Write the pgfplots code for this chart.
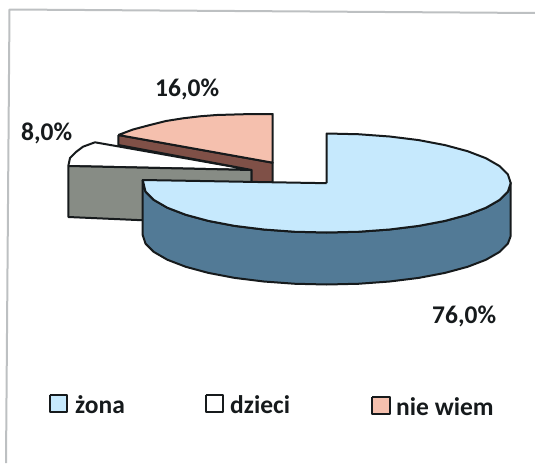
\documentclass[border=0pt]{standalone}
\usepackage{fontspec}
\setmainfont{Carlito}
\usepackage{pgfplots}
\pgfplotsset{compat=1.18}
\definecolor{lblue}{HTML}{C6E9FD}
\definecolor{dblue}{HTML}{527A96}
\definecolor{dgray}{HTML}{878C85}
\definecolor{brn}{HTML}{7F5047}
\definecolor{salm}{HTML}{F5C0AE}
\definecolor{ink}{HTML}{161A1C}
\definecolor{frame}{HTML}{BDC0C2}
\tikzset{lbl/.style={font=\bfseries\fontsize{25.5}{25.5}\selectfont, text=ink, inner sep=0pt, anchor=base west}}
\begin{document}
\begin{tikzpicture}
\begin{axis}[
  scale only axis, width=535pt, height=463pt,
  xmin=0, xmax=535, ymin=0, ymax=463, y dir=reverse,
  hide axis, clip=true,
  every axis plot/.append style={line join=round, line width=2pt, draw=ink, mark=none},
]
\path[use as bounding box] (axis cs:0,0) rectangle (axis cs:535,463);
% frame
\addplot[draw=frame, line width=2pt] coordinates {(6,463) (9.5,9.5) (535,13)};
% dzieci: top
\addplot[fill=white] coordinates {(68.3,166) (70,158) (76,152) (83,146.7) (95,142.3) (120,146.7) (251.7,170) (68.3,166)};
% dzieci: front
\addplot[fill=dgray] coordinates {(68.3,166) (251.7,170) (251.7,225) (68.3,217) (68.3,166)};
% nie wiem: side
\addplot[fill=brn] coordinates {(118.3,135) (272.7,162.7) (272.7,190) (251.7,190) (251.7,170) (118.3,145) (118.3,135)};
% nie wiem: top
\addplot[fill=salm] coordinates {(118.3,135) (133,129.5) (150,125) (166,121) (183,118.3) (200,116.3) (216.7,115) (245,114.2) (272.7,114) (272.7,162.7) (118.3,135)};
% zona: side
\addplot[fill=dblue] coordinates {(142.7,180) (145.5,191.6) (153.8,199.9) (167.4,207.75) (185.8,214.8) (208.4,220.9) (234.7,225.9) (263.8,229.5) (294.7,231.75) (326.7,232.5) (358.7,231.75) (389.6,229.5) (418.7,225.9) (445.0,220.9) (467.6,214.8) (486.0,207.75) (499.6,199.9) (507.9,191.6) (510.7,183)
 (510.7,236) (507.9,243.6) (499.6,251.9) (486.0,259.75) (467.6,266.8) (445.0,272.9) (418.7,277.9) (389.6,281.5) (358.7,283.75) (326.7,284.5) (294.7,283.75) (263.8,281.5) (234.7,277.9) (208.4,272.9) (185.8,266.8) (167.4,259.75) (153.8,251.9) (145.5,243.6) (142.7,235) (142.7,180)};
% zona: top
\addplot[fill=lblue] coordinates {(326.7,183.2) (326.7,133.5) (358.7,134.25) (389.6,136.5) (418.7,140.1) (445.0,145.1) (467.6,151.2) (486.0,158.25) (499.6,166.1) (507.9,174.4) (510.7,183) (507.9,191.6) (499.6,199.9) (486.0,207.75) (467.6,214.8) (445.0,220.9) (418.7,225.9) (389.6,229.5) (358.7,231.75) (326.7,232.5) (294.7,231.75) (263.8,229.5) (234.7,225.9) (208.4,220.9) (185.8,214.8) (167.4,207.75) (153.8,199.9) (145.5,191.6) (142.7,180) (326.7,183.2)};
% legend keys
\addplot[fill=lblue] coordinates {(49.5,394.5) (67,394.5) (67,412) (49.5,412) (49.5,394.5)};
\addplot[fill=white] coordinates {(205.5,394.5) (223,394.5) (223,412) (205.5,412) (205.5,394.5)};
\addplot[fill=salm] coordinates {(372,396.5) (389.5,396.5) (389.5,414) (372,414) (372,396.5)};
% labels
\node[lbl] at (axis cs:155,96) {16,0\%};
\node[lbl] at (axis cs:21,140) {8,0\%};
\node[lbl] at (axis cs:432,323) {76,0\%};
\node[lbl] at (axis cs:75,413) {żona};
\node[lbl] at (axis cs:230,413) {dzieci};
\node[lbl] at (axis cs:396,415) {nie wiem};
\end{axis}
\end{tikzpicture}
\end{document}
